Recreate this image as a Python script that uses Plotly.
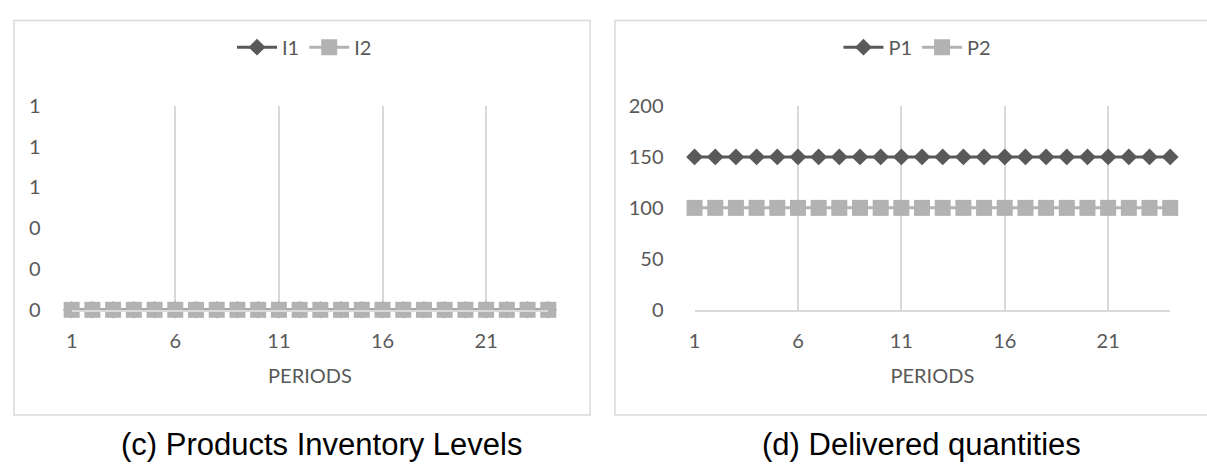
import plotly.graph_objects as go

W, H = 1207, 464

periods = [1, 2, 3, 4, 5, 6, 7, 8, 9, 10, 11, 12, 13, 14, 15, 16, 17, 18, 19, 20, 21, 22, 23, 24]
I1 = [0, 0, 0, 0, 0, 0, 0, 0, 0, 0, 0, 0, 0, 0, 0, 0, 0, 0, 0, 0, 0, 0, 0, 0]
I2 = [0, 0, 0, 0, 0, 0, 0, 0, 0, 0, 0, 0, 0, 0, 0, 0, 0, 0, 0, 0, 0, 0, 0, 0]
P1 = [150, 150, 150, 150, 150, 150, 150, 150, 150, 150, 150, 150,
      150, 150, 150, 150, 150, 150, 150, 150, 150, 150, 150, 150]
P2 = [100, 100, 100, 100, 100, 100, 100, 100, 100, 100, 100, 100,
      100, 100, 100, 100, 100, 100, 100, 100, 100, 100, 100, 100]
x_ticks = [1, 6, 11, 16, 21]
captions = ["(c) Products Inventory Levels", "(d) Delivered quantities"]

DARK = "#595959"
LIGHT = "#B2B2B2"
GRID = "#D9D9D9"
TXT = "#595959"
FONT = "Lato"


def px(x):
    return x / W


def py(y):
    return 1 - y / H


fig = go.Figure()

# left panel
fig.add_trace(go.Scatter(x=periods, y=I1, name="I1", mode="lines+markers",
                         line=dict(color=DARK, width=3),
                         marker=dict(symbol="diamond", size=13, color=DARK),
                         xaxis="x", yaxis="y", legend="legend", cliponaxis=False))
fig.add_trace(go.Scatter(x=periods, y=I2, name="I2", mode="lines+markers",
                         line=dict(color=LIGHT, width=3),
                         marker=dict(symbol="square", size=16, color=LIGHT),
                         xaxis="x", yaxis="y", legend="legend", cliponaxis=False))
# right panel
fig.add_trace(go.Scatter(x=periods, y=P1, name="P1", mode="lines+markers",
                         line=dict(color=DARK, width=3),
                         marker=dict(symbol="diamond", size=13, color=DARK),
                         xaxis="x2", yaxis="y2", legend="legend2", cliponaxis=False))
fig.add_trace(go.Scatter(x=periods, y=P2, name="P2", mode="lines+markers",
                         line=dict(color=LIGHT, width=3),
                         marker=dict(symbol="square", size=16, color=LIGHT),
                         xaxis="x2", yaxis="y2", legend="legend2", cliponaxis=False))

top, bottom = 98, 313
xcommon = dict(range=[1, 24], tickmode="array", tickvals=x_ticks,
               showgrid=True, gridcolor=GRID, gridwidth=1.5,
               showline=True, linecolor=GRID, linewidth=1.5,
               ticks="", tickfont=dict(family=FONT, size=20, color=TXT),
               ticklabelstandoff=12,
               title=dict(text="PERIODS", font=dict(family=FONT, size=20, color=TXT), standoff=18),
               zeroline=False, fixedrange=True)
ycommon = dict(showgrid=False, zeroline=False, showline=False, ticks="",
               tickfont=dict(family=FONT, size=20, color=TXT),
               ticklabelstandoff=30, fixedrange=True)

legcommon = dict(orientation="h", yanchor="middle", y=py(36),
                 font=dict(family=FONT, size=20, color=TXT), bgcolor="rgba(0,0,0,0)",
                 itemwidth=40)

fig.update_layout(
    width=W, height=H,
    margin=dict(l=0, r=0, t=0, b=0),
    paper_bgcolor="white", plot_bgcolor="white",
    xaxis=dict(domain=[px(66), px(545)], anchor="y", **xcommon),
    yaxis=dict(domain=[py(bottom), py(top)], anchor="x", range=[0, 1], dtick=0.2,
               tickformat=".0f", **ycommon),
    xaxis2=dict(domain=[px(692), px(1170)], anchor="y2", **xcommon),
    yaxis2=dict(domain=[py(bottom), py(top)], anchor="x2", range=[0, 200], dtick=50,
                **ycommon),
    legend=dict(x=px(300), xanchor="center", **legcommon),
    legend2=dict(x=px(916), xanchor="center", **legcommon),
    shapes=[
        dict(type="rect", xref="paper", yref="paper", x0=px(8), x1=px(587),
             y0=py(424), y1=py(8), line=dict(color=GRID, width=1.5), layer="below"),
        dict(type="rect", xref="paper", yref="paper", x0=px(612), x1=px(1212),
             y0=py(424), y1=py(8), line=dict(color=GRID, width=1.5), layer="below"),
    ],
    annotations=[
        dict(text=captions[0], xref="paper", yref="paper", x=px(317), y=py(455),
             xanchor="center", yanchor="middle", showarrow=False,
             font=dict(family="Liberation Sans", size=31, color="black")),
        dict(text=captions[1], xref="paper", yref="paper", x=px(920), y=py(455),
             xanchor="center", yanchor="middle", showarrow=False,
             font=dict(family="Liberation Sans", size=31, color="black")),
    ],
)

fig.write_html("out.html")
